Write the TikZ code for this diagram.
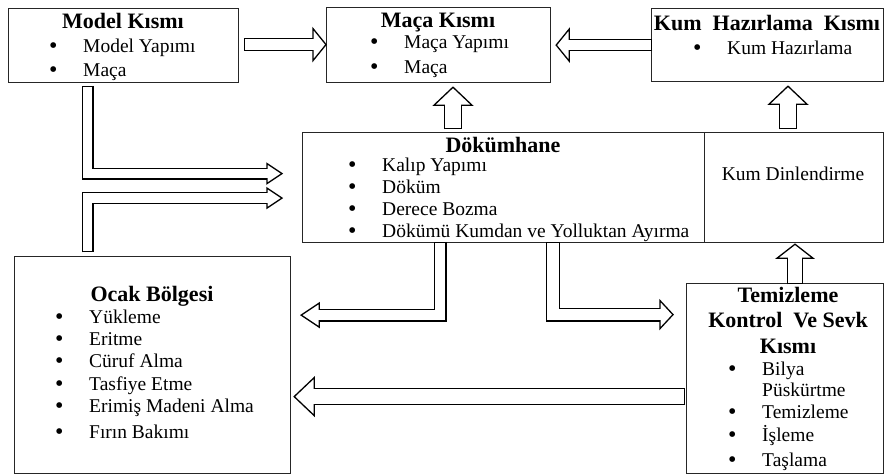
\documentclass[tikz,border=0pt]{standalone}
\usepackage{fontspec}
\setmainfont{Liberation Serif}
\usepackage{tikz}
\usetikzlibrary{calc}

\tikzset{
  box/.style={draw=black!85, line width=1.2pt, anchor=north west, inner sep=0pt},
  title/.style={font=\fontsize{22}{25.5}\selectfont\bfseries, inner sep=0pt},
  ttl/.style={title, anchor=base, yshift=-8.5pt},
  item/.style={font=\fontsize{19.5}{22}\selectfont, anchor=mid west, inner sep=0pt,
    text height=12pt, text depth=3pt, yshift=-3.5pt}
}
\newcommand{\itm}[1]{\makebox[34pt][l]{\raisebox{-0.5pt}{\fontsize{24}{24}\selectfont\textbullet}}#1}
% hollow block arrow: path, outer width, head base, angle, head length, head half width
\newcommand{\blockarrow}[6]{%
  \draw[line width=#2, shorten <=-1.3pt] #1;
  \filldraw[fill=white, line width=1.3pt, shift={(#3)}, rotate=#4] (0,#6) -- (#5,0) -- (0,-#6) -- cycle;
  \draw[white, line width=#2-2.6pt, shorten >=-2pt] #1;
}

\begin{document}
\begin{tikzpicture}[x=1pt,y=-1pt]
  \useasboundingbox (0,0) rectangle (885,475);
  \node[box, minimum width=230pt, minimum height=74pt] (model) at (8,8) {};
  \node[box, minimum width=224pt, minimum height=75pt] (maca) at (326,7) {};
  \node[box, minimum width=232pt, minimum height=73pt] (kum) at (651,8) {};
  \node[box, minimum width=402pt, minimum height=110pt] (dokum) at (302,132) {};
  \node[box, minimum width=179pt, minimum height=110pt] (dinlen) at (704,132) {};
  \node[box, minimum width=276pt, minimum height=217pt] (ocak) at (14,256) {};
  \node[box, minimum width=197pt, minimum height=190pt] (temiz) at (686,283) {};

  \node[ttl] (model-t) at (123,20) {Model Kısmı};
  \node[item] (model-1) at (49,47) {\itm{Model Yapımı}};
  \node[item] (model-2) at (49,71) {\itm{Maça}};

  \node[ttl] (maca-t) at (438,19) {Maça Kısmı};
  \node[item] (maca-1) at (370,43) {\itm{Maça Yapımı}};
  \node[item] (maca-2) at (370,68) {\itm{Maça}};

  \node[ttl] (kum-t) at (767,22) {Kum\ \ Hazırlama\ \ Kısmı};
  \node[item] (kum-1) at (693,49) {\itm{Kum Hazırlama}};

  \node[ttl] (dokum-t) at (503,144) {Dökümhane};
  \node[item] (dokum-1) at (348,166) {\itm{Kalıp Yapımı}};
  \node[item] (dokum-2) at (348,188) {\itm{Döküm}};
  \node[item] (dokum-3) at (348,210) {\itm{Derece Bozma}};
  \node[item] (dokum-4) at (348,232) {\itm{Dökümü Kumdan ve Yolluktan Ayırma}};
  \node[item, anchor=mid] (dinlen-t) at (793,175) {Kum Dinlendirme};

  \node[ttl] (ocak-t) at (152,293) {Ocak Bölgesi};
  \node[item] (ocak-1) at (55,318) {\itm{Yükleme}};
  \node[item] (ocak-2) at (55,340) {\itm{Eritme}};
  \node[item] (ocak-3) at (55,362) {\itm{Cüruf Alma}};
  \node[item] (ocak-4) at (55,385) {\itm{Tasfiye Etme}};
  \node[item] (ocak-5) at (55,407) {\itm{Erimiş Madeni Alma}};
  \node[item] (ocak-6) at (55,433) {\itm{Fırın Bakımı}};

  \node[title, align=center] (temiz-t) at (788,320) {Temizleme\\Kontrol\ \ Ve Sevk\\Kısmı};
  \node[item] (temiz-1) at (728,370) {\itm{Bilya}};
  \node[item] (temiz-1b) at (762,391) {Püskürtme};
  \node[item] (temiz-2) at (728,413) {\itm{Temizleme}};
  \node[item] (temiz-3) at (728,436) {\itm{İşleme}};
  \node[item] (temiz-4) at (728,461) {\itm{Taşlama}};

  % arrows
  \coordinate (a1) at ($(model.east)+(6,-1)$);
  \coordinate (a1b) at ($(a1 -| maca.west)+(-13,0)$);
  \blockarrow{(a1) -- (a1b)}{13pt}{a1b}{0}{13}{16}
  \coordinate (a2) at (kum.west);
  \coordinate (a2b) at ($(a2 -| maca.east)+(18,0)$);
  \blockarrow{(a2) -- (a2b)}{12pt}{a2b}{180}{13}{16}
  \coordinate (a3b) at ($(maca.south west)+(127,22)$);
  \coordinate (a3) at ($(a3b |- dokum.north)+(0,-4)$);
  \blockarrow{(a3) -- (a3b)}{18pt}{a3b}{90}{18}{19}
  \coordinate (a4b) at ($(kum.south west)+(137,22)$);
  \coordinate (a4) at ($(a4b |- dinlen.north)+(0,-4)$);
  \blockarrow{(a4) -- (a4b)}{18pt}{a4b}{90}{18}{19}
  \coordinate (a5b) at ($(dinlen.south west)+(91,15)$);
  \coordinate (a5) at (a5b |- temiz.north);
  \blockarrow{(a5) -- (a5b)}{16pt}{a5b}{90}{14}{18}
  \coordinate (a6) at ($(model.south west)+(79.5,4)$);
  \coordinate (a6b) at ($(dokum.west)+(-35,-14)$);
  \blockarrow{(a6) |- (a6b)}{12pt}{a6b}{0}{15}{10}
  \coordinate (a7) at ($(ocak.north west)+(73.5,-5)$);
  \coordinate (a7b) at ($(dokum.west)+(-35,10.5)$);
  \blockarrow{(a7) |- (a7b)}{12pt}{a7b}{0}{15}{10}
  \coordinate (a8) at ($(dokum.south west)+(138,0)$);
  \coordinate (a8b) at ($(ocak.east)+(28,-50)$);
  \blockarrow{(a8) |- (a8b)}{13pt}{a8b}{180}{18}{12}
  \coordinate (a9) at ($(dokum.south west)+(251,0)$);
  \coordinate (a9b) at ($(temiz.west)+(-26,-64)$);
  \blockarrow{(a9) |- (a9b)}{14pt}{a9b}{0}{13}{14}
  \coordinate (a10) at ($(temiz.west)+(-2,18)$);
  \coordinate (a10b) at ($(a10 -| ocak.east)+(23,0)$);
  \blockarrow{(a10) -- (a10b)}{17pt}{a10b}{180}{20}{19}
\end{tikzpicture}
\end{document}
